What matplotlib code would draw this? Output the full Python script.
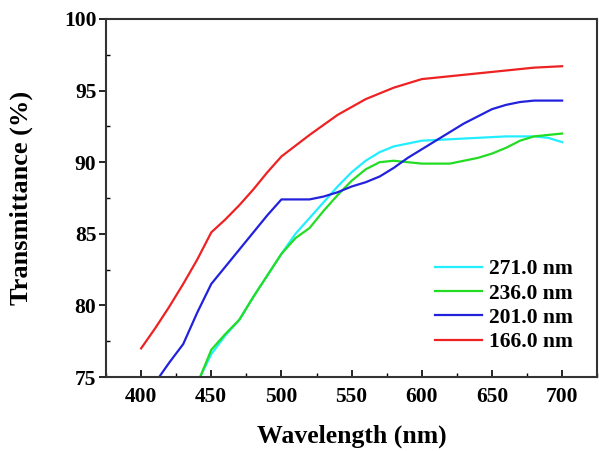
import numpy as np
import matplotlib
matplotlib.use('Agg')
import matplotlib.pyplot as plt
from matplotlib.ticker import MultipleLocator

# Transmittance spectra
wl_red = [400, 410, 420, 430, 440, 450, 460, 470, 480, 490, 500, 520, 540, 560, 580, 600, 620, 640, 660, 680, 700]
t_red = [77.0, 78.4, 79.9, 81.5, 83.2, 85.1, 86.0, 87.0, 88.1, 89.3, 90.4, 91.9, 93.3, 94.4, 95.2, 95.8, 96.0, 96.2, 96.4, 96.6, 96.7]

wl_blue = [400, 410, 420, 430, 440, 450, 460, 470, 480, 490, 500, 510, 520, 530, 540, 550, 560, 570, 580, 590,
           600, 610, 620, 630, 640, 650, 660, 670, 680, 690, 700]
t_blue = [73.2, 74.6, 76.0, 77.3, 79.5, 81.5, 82.7, 83.9, 85.1, 86.3, 87.4, 87.4, 87.4, 87.6, 87.9, 88.3, 88.6, 89.0, 89.6, 90.3,
          90.9, 91.5, 92.1, 92.7, 93.2, 93.7, 94.0, 94.2, 94.3, 94.3, 94.3]

wl_green = [440, 450, 460, 470, 480, 490, 500, 510, 520, 530, 540, 550, 560, 570, 580, 590, 600, 610, 620, 630,
            640, 650, 660, 670, 680, 690, 700]
t_green = [74.5, 76.9, 78.0, 79.0, 80.6, 82.1, 83.6, 84.7, 85.4, 86.6, 87.7, 88.7, 89.5, 90.0, 90.1, 90.0, 89.9, 89.9, 89.9, 90.1,
           90.3, 90.6, 91.0, 91.5, 91.8, 91.9, 92.0]

wl_cyan = [440, 450, 460, 470, 480, 490, 500, 510, 520, 530, 540, 550, 560, 570, 580, 590, 600, 620, 640, 660, 680, 690, 700]
t_cyan = [74.6, 76.6, 77.9, 79.0, 80.6, 82.1, 83.6, 85.0, 86.1, 87.2, 88.3, 89.3, 90.1, 90.7, 91.1, 91.3, 91.5, 91.6, 91.7, 91.8, 91.8, 91.7, 91.4]

labels = ['271.0 nm', '236.0 nm', '201.0 nm', '166.0 nm']

plt.rcParams['font.family'] = ['Liberation Serif', 'DejaVu Serif']
plt.rcParams['font.weight'] = 'bold'

fig = plt.figure(figsize=(5.99, 4.51), dpi=100)
ax = fig.add_axes([0.177, 0.164, 0.82, 0.794])

ax.plot(wl_cyan, t_cyan, color='#22eeff', lw=1.6, label=labels[0])
ax.plot(wl_green, t_green, color='#22dd22', lw=1.6, label=labels[1])
ax.plot(wl_blue, t_blue, color='#2222dd', lw=1.6, label=labels[2])
ax.plot(wl_red, t_red, color='#ee2222', lw=1.6, label=labels[3])

ax.set_xlim(375, 725)
ax.set_ylim(75, 100)
ax.xaxis.set_major_locator(MultipleLocator(50))
ax.xaxis.set_minor_locator(MultipleLocator(25))
ax.yaxis.set_major_locator(MultipleLocator(5))
ax.yaxis.set_minor_locator(MultipleLocator(2.5))

ax.tick_params(axis='x', which='major', direction='in', length=5, width=1.2, labelsize=15.5, pad=7)
ax.tick_params(axis='x', which='minor', direction='in', length=3, width=1.0)
ax.tick_params(axis='y', which='major', direction='out', length=5, width=1.2, labelsize=15.5, pad=2)
ax.tick_params(axis='y', which='minor', direction='in', length=3, width=1.0)
for lab in ax.get_xticklabels() + ax.get_yticklabels():
    lab.set_fontweight('bold')

for sp in ax.spines.values():
    sp.set_linewidth(1.5)
    sp.set_color('#333333')

ax.set_xlabel('Wavelength (nm)', fontsize=18.5, fontweight='bold', labelpad=13)
ax.set_ylabel('Transmittance (%)', fontsize=19, fontweight='bold', labelpad=22)

leg = ax.legend(loc='lower right', frameon=False, handlelength=2.2,
                handletextpad=0.3, labelspacing=0.2, borderaxespad=0.75,
                prop={'weight': 'bold', 'size': 15.5})

fig.savefig('out.png', dpi=100)
